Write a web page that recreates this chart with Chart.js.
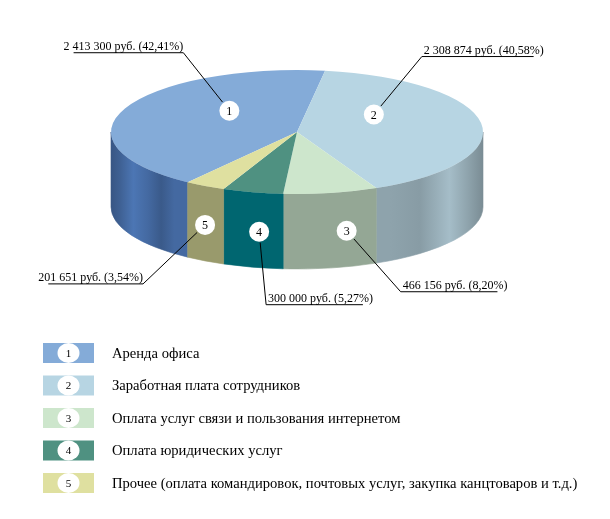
<!DOCTYPE html>
<html lang="ru">
<head>
<meta charset="utf-8">
<title>Структура расходов</title>
<script src="https://cdn.jsdelivr.net/npm/chart.js@4.4.1/dist/chart.umd.min.js"></script>
<style>
  html, body { margin: 0; padding: 0; background: #fff; }
  #chart { display: block; }
</style>
</head>
<body>
<canvas id="chart" width="610" height="519"></canvas>
<script>
// ============================================================
// ДАННЫЕ
// ============================================================
const categories = [
  'Аренда офиса',
  'Заработная плата сотрудников',
  'Оплата услуг связи и пользования интернетом',
  'Оплата юридических услуг',
  'Прочее (оплата командировок, почтовых услуг, закупка канцтоваров и т.д.)'
];
const values = [2413300, 2308874, 466156, 300000, 201651];
const percentLabels = ['42,41', '40,58', '8,20', '5,27', '3,54'];
const sliceNumbers = ['1', '2', '3', '4', '5'];

// ============================================================
// СТИЛЬ
// ============================================================
const topColors  = ['#84abd8', '#b7d5e3', '#cde6cc', '#4f9181', '#dfe0a0'];
const sideColors = ['#4469a1', '#8ea3ac', '#94a795', '#006670', '#999a6c'];
const FONT = '"Liberation Serif", "Times New Roman", serif';

const TILT = 1 / 3;      // сжатие верхней грани
const TOP_CY = 132;      // центр верхней грани на экране
const DEPTH = 75;        // высота боковой стенки

// смещение номеров (градусы) и где они лежат
const labelNudge  = [21, -26, -5, -2, 0];
const labelOnSide = [false, false, true, true, true];
// излом выносной линии относительно кружка
const leaderElbow = [[-46, -58], [48, -58], [54, 61], [7, 73], [-62, 59]];

// яркость боковой стенки по ширине пирога
const SHADE = [[0, 0.82], [0.025, 0.92], [0.06, 1.12], [0.1, 1.0], [0.135, 0.86],
               [0.17, 1.0], [0.75, 1.0], [0.83, 0.96], [0.91, 1.16], [0.96, 1.0], [1, 0.86]];

// ============================================================
// УТИЛИТЫ
// ============================================================
function shade(hex, f) {
  const n = parseInt(hex.slice(1), 16);
  const c = [n >> 16, (n >> 8) & 255, n & 255].map(v => Math.min(255, Math.round(v * f)));
  return `rgb(${c.join(',')})`;
}

function formatRub(v) {
  return String(v).replace(/\B(?=(\d{3})+(?!\d))/g, ' ') + ' руб.';
}

function sideGradient(ctx, x, R, color) {
  const g = ctx.createLinearGradient(x - R, 0, x + R, 0);
  SHADE.forEach(([p, f]) => g.addColorStop(p, shade(color, f)));
  return g;
}

function numberBadge(ctx, x, y, rx, ry, text, size) {
  ctx.beginPath();
  ctx.ellipse(x, y, rx, ry, 0, 0, Math.PI * 2);
  ctx.fillStyle = '#fff';
  ctx.fill();
  ctx.fillStyle = '#000';
  ctx.font = `${size}px ${FONT}`;
  ctx.textAlign = 'center';
  ctx.textBaseline = 'middle';
  ctx.fillText(text, x, y + 1);
}

// ============================================================
// ПЛАГИН: ОБЪЁМНЫЙ ПИРОГ
// ============================================================
const pie3d = {
  id: 'pie3d',
  beforeDatasetsDraw(chart) {
    const ctx = chart.ctx;
    const arcs = chart.getDatasetMeta(0).data;

    // боковые стенки (только передняя половина)
    arcs.forEach((arc, i) => {
      const { x, startAngle, endAngle, outerRadius: R } = arc;
      const ry = R * TILT;
      for (let k = -1; k <= 2; k++) {
        const lo = Math.max(startAngle, k * 2 * Math.PI);
        const hi = Math.min(endAngle, k * 2 * Math.PI + Math.PI);
        if (hi <= lo) continue;
        ctx.beginPath();
        ctx.ellipse(x, TOP_CY, R, ry, 0, lo, hi);
        ctx.ellipse(x, TOP_CY + DEPTH, R, ry, 0, hi, lo, true);
        ctx.closePath();
        ctx.fillStyle = sideGradient(ctx, x, R, sideColors[i]);
        ctx.strokeStyle = ctx.fillStyle;
        ctx.lineWidth = 0.6;
        ctx.fill();
        ctx.stroke();
      }
    });

    // верхняя грань рисуется самим Chart.js в сжатых координатах
    const cy = arcs[0].y;
    ctx.save();
    ctx.translate(0, TOP_CY);
    ctx.scale(1, TILT);
    ctx.translate(0, -cy);
  },
  afterDatasetsDraw(chart) {
    chart.ctx.restore();
  },
  afterDraw(chart) {
    const ctx = chart.ctx;
    const arcs = chart.getDatasetMeta(0).data;

    // номера и выносные подписи
    arcs.forEach((arc, i) => {
      const { x, startAngle, endAngle, outerRadius: R } = arc;
      const mid = (startAngle + endAngle) / 2 + labelNudge[i] * Math.PI / 180;
      const r = labelOnSide[i] ? R : R * 0.5;
      const px = x + Math.cos(mid) * r;
      const py = TOP_CY + Math.sin(mid) * r * TILT + (labelOnSide[i] ? DEPTH * 0.52 : 0);

      const ex = px + leaderElbow[i][0];
      const ey = py + leaderElbow[i][1];
      const len = Math.hypot(ex - px, ey - py);
      const text = `${formatRub(values[i])} (${percentLabels[i]}%)`;
      ctx.font = `12px ${FONT}`;
      const tw = ctx.measureText(text).width;
      const left = ex < px;

      ctx.beginPath();
      ctx.moveTo(px + (ex - px) / len * 11, py + (ey - py) / len * 11);
      ctx.lineTo(ex, ey);
      ctx.lineTo(left ? ex - tw + 10 : ex + tw - 8, ey);
      ctx.strokeStyle = '#000';
      ctx.lineWidth = 1;
      ctx.stroke();

      ctx.fillStyle = '#000';
      ctx.textBaseline = 'alphabetic';
      ctx.textAlign = left ? 'right' : 'left';
      ctx.fillText(text, left ? ex : ex + 2, ey - 3);

      numberBadge(ctx, px, py, 10, 10, sliceNumbers[i], 12);
    });

    // легенда
    const lx = 43, ly = 353, step = 32.5, bw = 51, bh = 20;
    categories.forEach((name, i) => {
      const cy = ly + i * step;
      ctx.fillStyle = topColors[i];
      ctx.fillRect(lx, cy - bh / 2, bw, bh);
      numberBadge(ctx, lx + bw / 2, cy, 11, 10, sliceNumbers[i], 11);
      ctx.fillStyle = '#000';
      ctx.font = `14.6px ${FONT}`;
      ctx.textAlign = 'left';
      ctx.textBaseline = 'middle';
      ctx.fillText(name, 112, cy + 1);
    });
  }
};

// ============================================================
// ГРАФИК
// ============================================================
new Chart(document.getElementById('chart'), {
  type: 'pie',
  data: {
    labels: categories,
    datasets: [{
      data: values,
      backgroundColor: topColors,
      borderWidth: 0
    }]
  },
  options: {
    responsive: false,
    animation: false,
    events: [],
    rotation: 216,
    layout: { padding: { left: 111, right: 127, top: 0, bottom: 147 } },
    plugins: {
      legend: { display: false },
      tooltip: { enabled: false }
    }
  },
  plugins: [pie3d]
});
</script>
</body>
</html>
